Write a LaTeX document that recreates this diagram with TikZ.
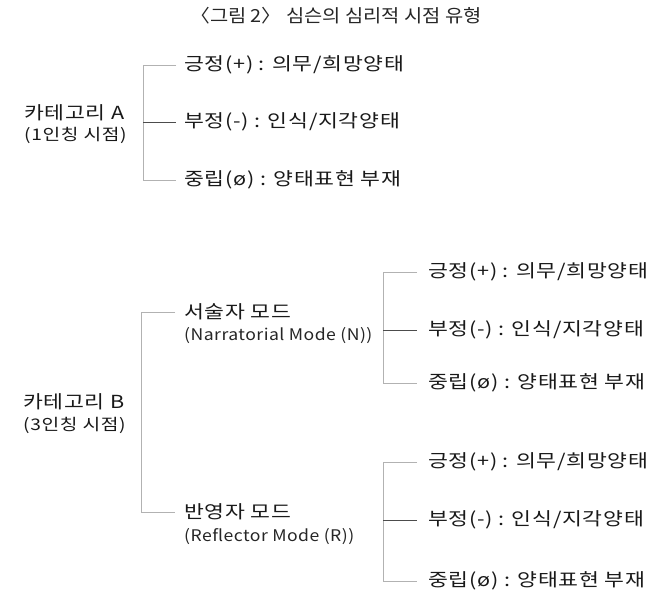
\documentclass[tikz,border=0pt]{standalone}
\usepackage{fontspec}
\setmainfont{Noto Sans CJK KR}
\newfontfamily\krA{Noto Sans CJK KR}[FakeStretch=1.2,LetterSpace=4]
\newfontfamily\krB{Noto Sans CJK KR}[FakeStretch=1.1]
\newfontfamily\krC{Noto Sans CJK KR}[FakeStretch=1.1,LetterSpace=3]
\begin{document}
\begin{tikzpicture}[x=1pt,y=-1pt,
  lbl/.style={anchor=west,inner sep=0pt,font=\krA\fontsize{18}{21}\selectfont,text=black!90},
  catsub/.style={anchor=west,inner sep=0pt,font=\krA\fontsize{16}{20}\selectfont,text=black!90},
  sublbl/.style={anchor=west,inner sep=0pt,font=\krC\fontsize{16}{19}\selectfont,text=black!85},
  ttl/.style={inner sep=0pt,font=\krB\fontsize{18}{21}\selectfont,text=black!85},
  outer/.style={draw=gray!60,line width=0.6pt},
  inner/.style={draw=black!70,line width=0.6pt}]
\useasboundingbox[fill=white] (0,0) rectangle (655,593);
\node[ttl] (title) at (336,16) {〈그림 2〉 심슨의 심리적 시점 유형};
% Category A
\node[lbl] (catA) at (24,113) {카테고리 A};
\node[catsub] (catAs) at (24,135) {(1인칭 시점)};
\node[lbl] (a1) at (184,65) {긍정(+) : 의무/희망양태};
\node[lbl] (a2) at (184,122) {부정(-) : 인식/지각양태};
\node[lbl] (a3) at (184,180) {중립(ø) : 양태표현 부재};
\draw[outer] ([xshift=-8pt]a1.west) -- ([xshift=-41pt]a1.west) -- ([xshift=-41pt]a3.west) -- ([xshift=-8pt]a3.west);
\draw[inner] ([xshift=-41pt]a2.west) -- ([xshift=-8pt]a2.west);
% Category B
\node[lbl] (catB) at (23,402) {카테고리 B};
\node[catsub] (catBs) at (23,425) {(3인칭 시점)};
\node[lbl] (modeN) at (184,312) {서술자 모드};
\node[sublbl] (modeNs) at (184,336) {(Narratorial Mode (N))};
\node[lbl] (modeR) at (184,512) {반영자 모드};
\node[sublbl] (modeRs) at (184,537) {(Reflector Mode (R))};
\draw[outer] ([xshift=-9pt]modeN.west) -- ([xshift=-43pt]modeN.west) -- ([xshift=-43pt]modeR.west) -- ([xshift=-9pt]modeR.west);
% N branch
\node[lbl] (n1) at (428,272) {긍정(+) : 의무/희망양태};
\node[lbl] (n2) at (428,330) {부정(-) : 인식/지각양태};
\node[lbl] (n3) at (428,383) {중립(ø) : 양태표현 부재};
\draw[outer] ([xshift=-11pt]n1.west) -- ([xshift=-45pt]n1.west) -- ([xshift=-45pt]n3.west) -- ([xshift=-11pt]n3.west);
\draw[inner] ([xshift=-45pt]n2.west) -- ([xshift=-11pt]n2.west);
% R branch
\node[lbl] (r1) at (428,462) {긍정(+) : 의무/희망양태};
\node[lbl] (r2) at (428,520) {부정(-) : 인식/지각양태};
\node[lbl] (r3) at (428,581) {중립(ø) : 양태표현 부재};
\draw[outer] ([xshift=-11pt]r1.west) -- ([xshift=-45pt]r1.west) -- ([xshift=-45pt]r3.west) -- ([xshift=-11pt]r3.west);
\draw[inner] ([xshift=-45pt]r2.west) -- ([xshift=-11pt]r2.west);
\end{tikzpicture}
\end{document}
